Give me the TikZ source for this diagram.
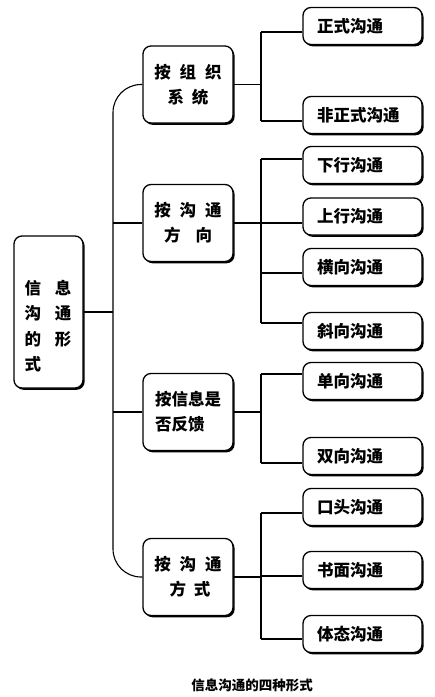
\documentclass[tikz,border=0pt]{standalone}
\usepackage{fontspec}
\setmainfont{Noto Sans CJK SC}
\usetikzlibrary{shadows}

\tikzset{
  box/.style={draw, line width=1.3pt, rounded corners=8pt, fill=white,
    drop shadow={shadow xshift=1.6pt, shadow yshift=-1.8pt, fill=black, opacity=1},
    font=\fontsize{16.5}{25}\selectfont\bfseries, inner sep=0pt},
  rootbox/.style={box, minimum width=69pt, minimum height=152pt},
  midbox/.style={box, minimum width=90pt, minimum height=77pt, align=center},
  leafbox/.style={box, text width=91pt, inner xsep=14pt, minimum height=37pt, align=left},
  link/.style={line width=1.1pt}
}

\begin{document}
\begin{tikzpicture}[x=1pt,y=-1pt]
        \useasboundingbox (0,0) rectangle (435,697);
        % root
        \node[rootbox](root) at (48.5,312) {};
        \node[font=\fontsize{16.5}{25.5}\selectfont\bfseries, align=left](rootlabel) at (48,326)
          {信\hspace{14pt}息\\沟\hspace{14pt}通\\的\hspace{14pt}形\\式};
        % second level
        \node[midbox](b1) at (188,84.5) {按\hspace{9pt}组\hspace{9pt}织\\系\hspace{8pt}统};
        \node[midbox](b2) at (188,223) {按\hspace{9pt}沟\hspace{9pt}通\\方\hspace{15pt}向};
        \node[midbox, align=left](b3) at (188,412) {按信息是\\否反馈};
        \node[midbox](b4) at (188,577) {按\hspace{9pt}沟\hspace{9pt}通\\\hspace{4pt}方\hspace{8pt}式};
        % leaves
        \node[leafbox](l1) at (362.5,26) {正式沟通};
        \node[leafbox](l2) at (362.5,115) {非正式沟通};
        \node[leafbox](l3) at (362.5,165) {下行沟通};
        \node[leafbox](l4) at (362.5,216.5) {上行沟通};
        \node[leafbox](l5) at (362.5,267) {横向沟通};
        \node[leafbox](l6) at (362.5,331) {斜向沟通};
        \node[leafbox](l7) at (362.5,381) {单向沟通};
        \node[leafbox](l8) at (362.5,456) {双向沟通};
        \node[leafbox](l9) at (362.5,507) {口头沟通};
        \node[leafbox](l10) at (362.5,570) {书面沟通};
        \node[leafbox](l11) at (362.5,634) {体态沟通};
        % caption
        \node[font=\fontsize{13.5}{14}\selectfont\bfseries](caption) at (252,685) {信息沟通的四种形式};

        \coordinate(tx) at (113,0);
        \coordinate(lx) at (261,0);
        % trunk
        \draw[link, rounded corners=28pt] (b1.west) -| (b4.west -| tx) -- (b4.west);
        \draw[link] (root.east) -- (root.east -| tx);
        \draw[link] (b2.west) -- (b2.west -| tx);
        \draw[link] (b3.west) -- (b3.west -| tx);
        % branches
        \foreach \b in {b1,b2,b3,b4}
          \draw[link] (\b.east) -- (\b.east -| lx);
        \foreach \n/\d in {l1/-6,l2/-6,l3/6,l4/-6.5,l5/-6,l6/8,l7/7,l8/-7,l9/-6,l10/-6,l11/-5}{
          \coordinate(\n a) at ([yshift=\d pt]\n.west);
          \draw[link] (\n a) -- (\n a -| lx);
        }
        \draw[link] (l1a -| lx) -- (l2a -| lx);
        \draw[link] (l3a -| lx) -- (l6a -| lx);
        \draw[link] (l7a -| lx) -- (l8a -| lx);
        \draw[link] (l9a -| lx) -- (l11a -| lx);
\end{tikzpicture}
\end{document}
